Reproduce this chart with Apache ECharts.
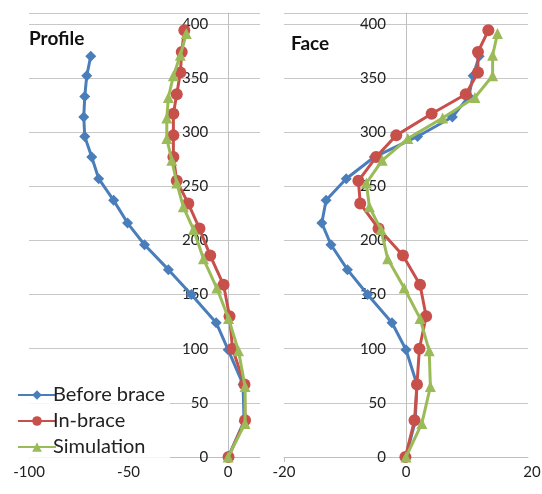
<!DOCTYPE html>
<html>
<head>
<meta charset="utf-8">
<script src="https://cdn.jsdelivr.net/npm/echarts@6/dist/echarts.min.js"></script>
<style>
html,body{margin:0;padding:0;background:#fff;}
#c{width:542px;height:494px;}
</style>
</head>
<body>
<div id="c"></div>
<script>
// ---- data ----
const seriesNames = ['Before brace', 'In-brace', 'Simulation'];
const panelTitles = ['Profile', 'Face'];
const yTickLabels = [0, 50, 100, 150, 200, 250, 300, 350, 400];
const profileTicks = [-100, -50, 0];
const faceTicks = [-20, 0, 20];

const beforeY = [370, 352, 333, 314, 296, 277, 257, 237, 216, 196, 173, 150, 124, 99, 67, 33, 0];
const beforeProfileX = [-69, -71, -72, -72.5, -72, -68.5, -65, -57.5, -50.5, -42, -30, -18.5, -6, 0, 7.5, 8, 0];
const beforeFaceX = [12, 11, 10.3, 7.6, 1.9, -5.2, -9.8, -13.1, -13.8, -12.3, -9.6, -6.3, -2.3, 0, 1.8, 1.5, 0];

const inBraceY = [394, 374, 355, 335, 317, 297, 277, 255, 234, 211, 186, 159, 130, 100, 67, 34, 0];
const inBraceProfileX = [-22, -23.3, -24, -25.8, -27.5, -27.5, -27.5, -25.8, -20, -14.4, -9, -2.3, 0.7, 2.2, 8.2, 8.5, 0.2];
const inBraceFaceX = [13.5, 11.8, 11.8, 9.8, 4.2, -1.6, -4.9, -7.8, -7.5, -4.5, -0.5, 2.3, 3.3, 2.2, 1.8, 1.4, -0.1];

const simY = [391, 371, 352, 332, 313, 294, 274, 253, 231, 210, 183, 156, 128, 98, 65, 31, 0];
const simProfileX = [-21, -24, -27.5, -30, -30.8, -30.8, -28.3, -25.8, -22.5, -17.4, -12.4, -5.7, 0.2, 5.2, 8.5, 8.5, 0];
const simFaceX = [15, 14.2, 14.2, 11.3, 6, 0.3, -3.9, -6.5, -6, -4.1, -3, -0.3, 2.3, 3.8, 4, 2.6, 0];

// ---- build ----
const zip = (xs, ys) => xs.map((x, i) => [x, ys[i]]);
const colors = ['#4A7EBB', '#C8504B', '#9BBB59'];
const symbols = ['diamond', 'circle', 'triangle'];
const symbolSizes = [11, 12, 11];
const FONT = 'Lato, "Open Sans", sans-serif';

const grids = [
  { left: 29, top: 13, width: 231, height: 444, xmin: -100, xmax: 16 },
  { left: 284, top: 13, width: 244, height: 444, xmin: -20, xmax: 20 }
];

const chart = echarts.init(document.getElementById('c'));

function yAxisFor(gridIndex) {
  const g = grids[gridIndex];
  // place the vertical axis at x = 0 of its panel
  const zeroOffset = (0 - g.xmin) / (g.xmax - g.xmin) * g.width;
  return {
    type: 'value', gridIndex, min: 0, max: 410, interval: 50,
    position: 'left', offset: -zeroOffset,
    axisLine: { show: true, onZero: false, lineStyle: { color: '#BFBFBF', width: 1 } },
    axisTick: { show: false },
    axisLabel: { showMaxLabel: false, hideOverlap: false, margin: 20, color: '#222', fontSize: 15, fontFamily: FONT,
      formatter: v => yTickLabels.includes(v) ? String(v) : '' },
    splitLine: { show: true, lineStyle: { color: '#C8C8C8', width: 1 } }
  };
}

const sets = [
  [beforeProfileX, beforeY, beforeFaceX],
  [inBraceProfileX, inBraceY, inBraceFaceX],
  [simProfileX, simY, simFaceX]
];

const series = [];
[0, 1].forEach(panel => {
  sets.forEach((s, i) => {
    series.push({
      name: seriesNames[i], type: 'line',
      xAxisIndex: panel, yAxisIndex: panel,
      data: zip(panel === 0 ? s[0] : s[2], s[1]),
      symbol: symbols[i], symbolSize: symbolSizes[i],
      showSymbol: true,
      lineStyle: { color: colors[i], width: 3 },
      itemStyle: { color: colors[i] },
      z: 2 + i, animation: false
    });
  });
});

function xAxisFor(gridIndex, interval, ticks) {
  const g = grids[gridIndex];
  return { type: 'value', gridIndex, min: g.xmin, max: g.xmax, interval,
    axisLine: { show: true, onZero: false, lineStyle: { color: '#BFBFBF' } },
    axisTick: { show: true, length: 5, lineStyle: { color: '#BFBFBF' } },
    axisLabel: { showMaxLabel: false, hideOverlap: false, margin: 8, color: '#222', fontSize: 15, fontFamily: FONT,
      // the boundary label of the Face axis is added below as a graphic, placed through the axis scale
      formatter: v => (ticks.includes(v) && v !== g.xmax) ? String(v) : '' },
    splitLine: { show: false } };
}

chart.setOption({
  animation: false,
  textStyle: { fontFamily: FONT },
  title: [
    { text: panelTitles[0], left: 24, top: 24, textStyle: { fontSize: 19, fontWeight: 'bold', color: '#111', fontFamily: FONT } },
    { text: panelTitles[1], left: 286, top: 29, textStyle: { fontSize: 19, fontWeight: 'bold', color: '#111', fontFamily: FONT } }
  ],
  legend: {
    data: seriesNames, orient: 'vertical', left: 12, top: 379,
    itemWidth: 38, itemHeight: 12, itemGap: 4,
    textStyle: { fontSize: 20, color: '#222', fontFamily: FONT, lineHeight: 22, padding: [0, 0, 0, -8] },
    backgroundColor: 'rgba(255,255,255,0.85)'
  },
  grid: grids.map(g => ({ left: g.left, top: g.top, width: g.width, height: g.height })),
  xAxis: [xAxisFor(0, 50, profileTicks), xAxisFor(1, 20, faceTicks)],
  yAxis: [yAxisFor(0), yAxisFor(1)],
  series
});

// label for the last Face tick, positioned from the axis scale
const lastFaceTick = faceTicks[faceTicks.length - 1];
const p = chart.convertToPixel({ xAxisIndex: 1, yAxisIndex: 1 }, [lastFaceTick, 0]);
chart.setOption({
  graphic: [{
    type: 'text', x: p[0] + 4, y: p[1] + 8, silent: true,
    style: { text: String(lastFaceTick), fontSize: 15, fontFamily: FONT, fill: '#222',
      align: 'center', verticalAlign: 'top' }
  }]
});
</script>
</body>
</html>
